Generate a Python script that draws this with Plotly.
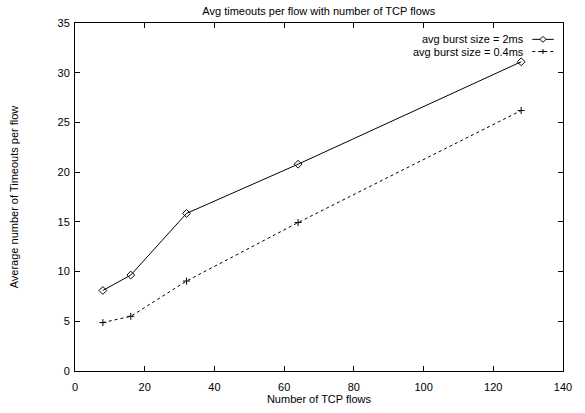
import plotly.graph_objects as go

flows = [8, 16, 32, 64, 128]
timeouts_2ms = [8.1, 9.65, 15.85, 20.8, 31.1]
timeouts_04ms = [4.87, 5.5, 9.05, 14.93, 26.2]
series_names = ["avg burst size = 2ms", "avg burst size = 0.4ms"]
x_ticks = [0, 20, 40, 60, 80, 100, 120, 140]
y_ticks = [0, 5, 10, 15, 20, 25, 30, 35]

FONT = "Liberation Sans, Arial, Helvetica, sans-serif"

fig = go.Figure()
fig.add_trace(go.Scatter(
    x=flows, y=timeouts_2ms, mode="lines+markers", name=series_names[0],
    line=dict(color="black", width=1),
    marker=dict(symbol="diamond-open", size=6, color="black", line=dict(width=1, color="black")),
    showlegend=False,
))
fig.add_trace(go.Scatter(
    x=flows, y=timeouts_04ms, mode="lines+markers", name=series_names[1],
    line=dict(color="black", width=1, dash="3px,3px"),
    marker=dict(symbol="cross-thin-open", size=5, color="black", line=dict(width=1, color="black")),
    showlegend=False,
))

# gnuplot-style key: text right-aligned, sample to the right
key_rows = [0.953, 0.918]
x_text = 0.925
x_l0, x_l1 = 0.937, 0.981
x_mid = (x_l0 + x_l1) / 2
for i, (name, yk) in enumerate(zip(series_names, key_rows)):
    fig.add_annotation(x=x_text, y=yk, xref="paper", yref="paper", text=name,
                       showarrow=False, xanchor="right", yanchor="middle",
                       font=dict(family=FONT, size=11, color="black"))
    fig.add_shape(type="line", xref="paper", yref="paper", x0=x_l0, x1=x_l1, y0=yk, y1=yk,
                  line=dict(color="black", width=1, dash="solid" if i == 0 else "3px,3px"))
    if i == 0:
        fig.add_shape(type="path", xref="paper", yref="paper", xsizemode="pixel", ysizemode="pixel",
                      xanchor=x_mid, yanchor=yk,
                      path="M 0 3 L 3 0 L 0 -3 L -3 0 Z",
                      fillcolor="white", line=dict(color="black", width=1))
    else:
        fig.add_shape(type="path", xref="paper", yref="paper", xsizemode="pixel", ysizemode="pixel",
                      xanchor=x_mid, yanchor=yk,
                      path="M -2.5 0 L 2.5 0 M 0 -2.5 L 0 2.5",
                      line=dict(color="black", width=1))

axis_common = dict(
    showgrid=False, zeroline=False, showline=True, mirror="ticks",
    linecolor="black", linewidth=1, ticks="inside", ticklen=5, tickcolor="black",
    tickfont=dict(family=FONT, size=11, color="black"),
)
fig.update_xaxes(range=[0, 140], tickvals=x_ticks, ticklabelstandoff=6,
                 title=dict(text="Number of TCP flows", standoff=0,
                            font=dict(family=FONT, size=11, color="black")),
                 **axis_common)
fig.update_yaxes(range=[0, 35], tickvals=y_ticks, ticklabelstandoff=2,
                 title=dict(text="Average number of Timeouts per flow", standoff=36,
                            font=dict(family=FONT, size=11, color="black")),
                 **axis_common)

fig.update_layout(
    width=585, height=413,
    margin=dict(l=75, r=22, t=23, b=32),
    paper_bgcolor="white", plot_bgcolor="white",
    title=dict(text="Avg timeouts per flow with number of TCP flows", x=0.545, xanchor="center",
               y=0.972, yanchor="middle", font=dict(family=FONT, size=11, color="black")),
    font=dict(family=FONT, size=11, color="black"),
)

fig.write_html("out.html")
